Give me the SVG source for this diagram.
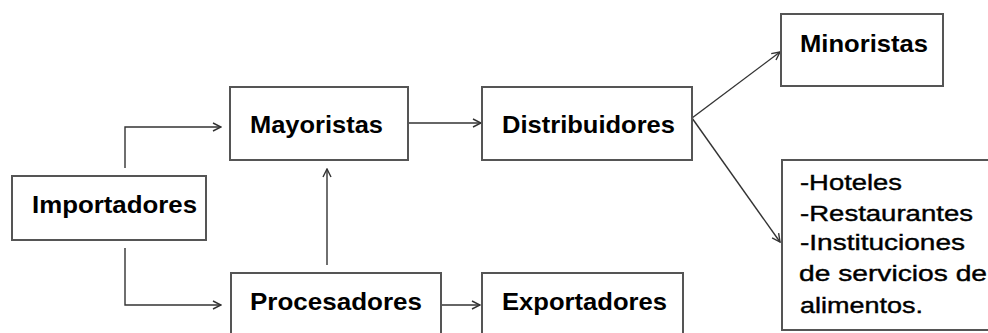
<svg xmlns="http://www.w3.org/2000/svg" width="988" height="333" viewBox="0 0 988 333">
<style>
.box{fill:#fff;stroke:#555;stroke-width:2}
.lbl{font-family:"Liberation Sans",Arial,sans-serif;font-weight:bold;font-size:24px;fill:#000}
.lst{font-family:"Liberation Sans",Arial,sans-serif;font-size:22.5px;fill:#000;stroke:#000;stroke-width:0.4}
.con{fill:none;stroke:#333;stroke-width:1.4}
</style>
<defs>
<marker id="arr" viewBox="0 0 10 10" refX="9" refY="5" markerWidth="10" markerHeight="10" markerUnits="userSpaceOnUse" orient="auto">
<path d="M1,1 L9,5 L1,9" fill="none" stroke="#333" stroke-width="1.4"/>
</marker>
</defs>
<rect width="988" height="333" fill="#fff"/>
<g id="connectors">
<path class="con" d="M125,168 V127 H221" marker-end="url(#arr)"/>
<path class="con" d="M125,248 V305 H221" marker-end="url(#arr)"/>
<path class="con" d="M409,123 H481" marker-end="url(#arr)"/>
<path class="con" d="M327,265 V169" marker-end="url(#arr)"/>
<path class="con" d="M441,305 H480" marker-end="url(#arr)"/>
<path class="con" d="M692,118 L780,52" marker-end="url(#arr)"/>
<path class="con" d="M692,118 L780,242" marker-end="url(#arr)"/>
</g>
<g id="importadores">
<rect class="box" x="12" y="176" width="194" height="64"/>
<text class="lbl" x="32" y="213" textLength="165" lengthAdjust="spacingAndGlyphs">Importadores</text>
</g>
<g id="mayoristas">
<rect class="box" x="230" y="87" width="178" height="73"/>
<text class="lbl" x="250" y="133" textLength="133" lengthAdjust="spacingAndGlyphs">Mayoristas</text>
</g>
<g id="distribuidores">
<rect class="box" x="482" y="87" width="210" height="73"/>
<text class="lbl" x="502" y="133" textLength="173" lengthAdjust="spacingAndGlyphs">Distribuidores</text>
</g>
<g id="procesadores">
<rect class="box" x="231" y="273" width="210" height="80"/>
<text class="lbl" x="250" y="310" textLength="172" lengthAdjust="spacingAndGlyphs">Procesadores</text>
</g>
<g id="exportadores">
<rect class="box" x="482" y="273" width="201" height="80"/>
<text class="lbl" x="502" y="310" textLength="165" lengthAdjust="spacingAndGlyphs">Exportadores</text>
</g>
<g id="minoristas">
<rect class="box" x="781" y="14" width="162" height="72"/>
<text class="lbl" x="800" y="52" textLength="128" lengthAdjust="spacingAndGlyphs">Minoristas</text>
</g>
<g id="hoteles">
<rect class="box" x="782" y="160" width="212" height="170"/>
<text class="lst" x="800" y="190" textLength="102" lengthAdjust="spacingAndGlyphs">-Hoteles</text>
<text class="lst" x="800" y="221" textLength="173" lengthAdjust="spacingAndGlyphs">-Restaurantes</text>
<text class="lst" x="800" y="250" textLength="165" lengthAdjust="spacingAndGlyphs">-Instituciones</text>
<text class="lst" x="799" y="281" textLength="188" lengthAdjust="spacingAndGlyphs">de servicios de</text>
<text class="lst" x="800" y="313" textLength="123" lengthAdjust="spacingAndGlyphs">alimentos.</text>
</g>
</svg>
